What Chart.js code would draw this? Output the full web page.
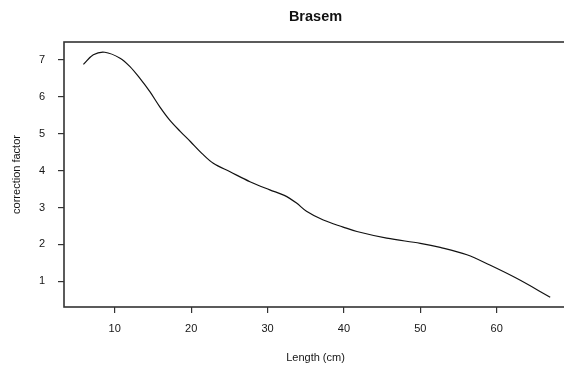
<!DOCTYPE html>
<html>
<head>
<meta charset="utf-8">
<script src="https://cdn.jsdelivr.net/npm/chart.js@4.4.1/dist/chart.umd.min.js"></script>
<style>
  html, body { margin: 0; padding: 0; background: #fff; overflow: hidden; }
  #wrap { width: 580px; height: 371px; }
</style>
</head>
<body>
<div id="wrap"><canvas id="c" width="580" height="371"></canvas></div>
<script>
// Smoothed correction factor by fish length (Brasem)
const lengthCm = [5.9, 7.2, 8.7, 10.7, 12.0, 13.3, 14.6, 15.9, 17.2, 18.6, 19.9, 21.4, 22.9, 25.1,
                  27.7, 30.3, 32.2, 33.8, 35.1, 37.3, 39.9, 41.7, 45.6, 50.0, 52.6, 56.1, 59.1, 62.6, 67.0];
const correction = [6.88, 7.14, 7.21, 7.05, 6.82, 6.50, 6.14, 5.73, 5.37, 5.06, 4.79, 4.47, 4.20, 3.97,
                    3.70, 3.48, 3.33, 3.12, 2.90, 2.66, 2.47, 2.35, 2.17, 2.03, 1.92, 1.72, 1.44, 1.08, 0.57];
const xTicks = [10, 20, 30, 40, 50, 60];
const yTicks = [1, 2, 3, 4, 5, 6, 7];

const FONT = "'Liberation Sans', Arial, sans-serif";
const INK = '#151515';

// closed frame around the plotting region
const frame = {
  id: 'frame',
  afterDatasetsDraw(chart) {
    const a = chart.chartArea, ctx = chart.ctx;
    ctx.save();
    ctx.strokeStyle = '#333';
    ctx.lineWidth = 1.6;
    ctx.strokeRect(a.left, a.top, a.right - a.left, a.bottom - a.top);
    ctx.restore();
  }
};

new Chart(document.getElementById('c'), {
  type: 'line',
  data: {
    datasets: [{
      data: lengthCm.map((x, i) => ({ x: x, y: correction[i] })),
      borderColor: '#111',
      borderWidth: 1.2,
      pointRadius: 0,
      fill: false,
      tension: 0.35
    }]
  },
  options: {
    responsive: false,
    animation: false,
    devicePixelRatio: 1,
    layout: { padding: { left: 0, right: 13, top: 0, bottom: 0 } },
    plugins: {
      legend: { display: false },
      tooltip: { enabled: false },
      title: {
        display: true,
        text: 'Brasem',
        fullSize: false,
        color: '#111',
        font: { family: FONT, size: 14.5, weight: 'bold' },
        padding: { top: 8, bottom: 16.6 }
      }
    },
    scales: {
      x: {
        type: 'linear',
        min: 3.36,
        max: 69.2,
        afterBuildTicks: s => { s.ticks = xTicks.map(v => ({ value: v })); },
        afterFit: s => { s.height = 64; },
        border: { display: false },
        grid: { display: true, drawOnChartArea: false, drawTicks: true, tickLength: 6, color: '#333', lineWidth: 1.2 },
        ticks: { color: INK, font: { family: FONT, size: 11 }, padding: 9, maxRotation: 0 },
        title: {
          display: true, text: 'Length (cm)', color: INK,
          font: { family: FONT, size: 11 }, padding: { top: 0, bottom: 6 }
        }
      },
      y: {
        type: 'linear',
        min: 0.303,
        max: 7.488,
        afterBuildTicks: s => { s.ticks = yTicks.map(v => ({ value: v })); },
        afterFit: s => { s.width = 64; },
        border: { display: false },
        grid: { display: true, drawOnChartArea: false, drawTicks: true, tickLength: 6, color: '#333', lineWidth: 1.2 },
        ticks: { color: INK, font: { family: FONT, size: 11 }, padding: 13 },
        title: {
          display: true, text: 'correction factor', color: INK,
          font: { family: FONT, size: 11 }, padding: { top: 10.4, bottom: 0 }
        }
      }
    }
  },
  plugins: [frame]
});
</script>
</body>
</html>
